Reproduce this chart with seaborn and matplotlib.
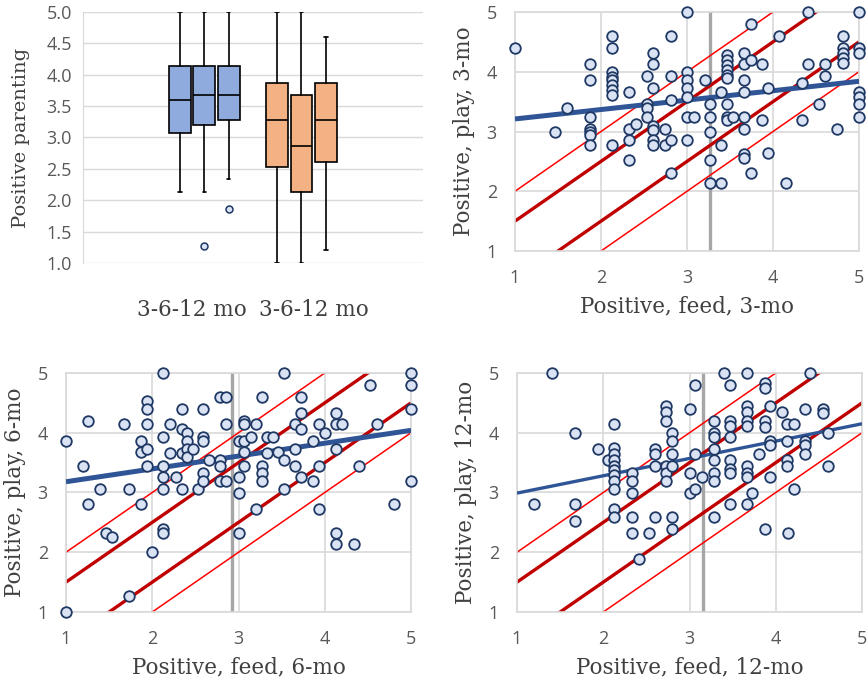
import matplotlib
matplotlib.use("Agg")
import matplotlib.pyplot as plt
import numpy as np
import pandas as pd
import seaborn as sns

# ---- box plot summary ----
box_labels = ["3-6-12 mo", "3-6-12 mo"]
box_lo = [2.13, 2.13, 2.34, 1.0, 1.0, 1.21]
box_q1 = [3.07, 3.20, 3.28, 2.53, 2.13, 2.61]
box_med = [3.60, 3.68, 3.68, 3.28, 2.87, 3.28]
box_q3 = [4.14, 4.14, 4.14, 3.87, 3.68, 3.87]
box_hi = [5.0, 5.0, 5.0, 5.0, 5.0, 4.60]
box_out = [[], [1.27], [1.86], [], [], []]
box_colors = ["#8FAADC"] * 3 + ["#F4B183"] * 3

# ---- scatter data, 3 months ----
feed3 = [1.0, 1.47, 1.60,
         1.87, 1.87, 1.87, 1.87, 1.87, 1.87, 1.87,
         2.13, 2.13, 2.13, 2.13, 2.13, 2.13, 2.13, 2.13, 2.13,
         2.33, 2.33, 2.33, 2.33, 2.41,
         2.54, 2.54, 2.54, 2.54,
         2.61, 2.61, 2.61, 2.61, 2.61, 2.61, 2.61,
         2.74, 2.74, 2.81, 2.81, 2.81, 2.81, 2.81,
         3.0, 3.0, 3.0, 3.0, 3.0, 3.0, 3.0, 3.08, 3.21,
         3.27, 3.27, 3.27, 3.27, 3.27, 3.40, 3.40, 3.40,
         3.47, 3.47, 3.47, 3.47, 3.47, 3.47, 3.47, 3.47, 3.47, 3.54,
         3.66, 3.66, 3.66, 3.66, 3.66, 3.66, 3.66, 3.66,
         3.74, 3.74, 3.74, 3.87, 3.87, 3.94, 3.94, 4.07, 4.15,
         4.34, 4.34, 4.41, 4.41, 4.54, 4.61, 4.61, 4.74,
         4.81, 4.81, 4.81, 4.81, 4.81,
         5.0, 5.0, 5.0, 5.0, 5.0, 5.0, 5.0]
play3 = [4.40, 3.0, 3.39,
         4.13, 3.86, 3.25, 3.05, 3.0, 2.94, 2.78,
         4.60, 4.40, 3.99, 3.91, 3.86, 3.78, 3.70, 3.61, 2.78,
         3.66, 3.05, 2.86, 2.52, 3.12,
         3.93, 3.46, 3.39, 3.25,
         4.32, 4.13, 3.72, 3.09, 3.03, 2.86, 2.78,
         3.05, 2.78, 4.60, 3.93, 3.53, 2.86, 2.31,
         5.0, 3.99, 3.86, 3.72, 3.58, 3.25, 2.86, 3.25, 3.86,
         3.46, 3.25, 3.0, 2.52, 2.13, 3.66, 2.78, 2.13,
         4.28, 4.20, 4.12, 4.03, 3.95, 3.89, 3.46, 3.25, 3.19, 3.25,
         4.32, 4.13, 3.86, 3.66, 3.25, 3.05, 2.63, 2.55,
         4.80, 4.20, 2.31, 4.13, 3.19, 3.72, 2.64, 4.60, 2.13,
         3.81, 3.19, 5.0, 4.13, 3.46, 4.13, 3.93, 3.05,
         4.60, 4.40, 4.31, 4.23, 4.14,
         5.0, 4.40, 4.32, 3.66, 3.58, 3.46, 3.25]

# ---- scatter data, 6 months ----
feed6 = [1.0, 1.0, 1.20, 1.26, 1.26, 1.40, 1.46, 1.53, 1.67, 1.73, 1.73,
         1.87, 1.87, 1.87, 1.94, 1.94, 1.94, 1.94, 1.94, 2.0,
         2.13, 2.13, 2.13, 2.13, 2.13, 2.13, 2.13, 2.21, 2.21, 2.27,
         2.34, 2.34, 2.34, 2.34, 2.40, 2.40, 2.40, 2.40, 2.47, 2.53,
         2.59, 2.59, 2.59, 2.59, 2.59, 2.66,
         2.79, 2.79, 2.79, 2.79, 2.86, 2.86, 2.86,
         3.0, 3.0, 3.0, 3.0, 3.06, 3.06, 3.06, 3.06, 3.06, 3.14,
         3.20, 3.20, 3.27, 3.27, 3.27, 3.27, 3.33, 3.33, 3.40, 3.46,
         3.53, 3.53, 3.53, 3.66, 3.66, 3.66,
         3.73, 3.73, 3.73, 3.73, 3.86, 3.86, 3.93, 3.93, 3.93, 4.0,
         4.13, 4.13, 4.13, 4.13, 4.13, 4.20, 4.34, 4.40, 4.53, 4.60, 4.80,
         5.0, 5.0, 5.0, 5.0]
play6 = [3.86, 1.0, 3.45, 4.20, 2.80, 3.06, 2.33, 2.26, 4.14, 3.06, 1.27,
         3.87, 3.68, 2.80, 4.53, 4.39, 4.14, 3.73, 3.45, 2.0,
         5.0, 3.93, 3.45, 3.26, 3.06, 2.39, 2.32, 4.14, 3.66, 3.26,
         4.39, 4.07, 3.66, 3.06, 4.0, 3.87, 3.73, 3.59, 3.73, 3.06,
         4.39, 3.93, 3.87, 3.32, 3.20, 3.54,
         4.60, 3.54, 3.45, 3.20, 4.60, 4.14, 3.20,
         3.87, 3.26, 2.99, 2.32, 4.20, 4.14, 3.87, 3.68, 3.45, 3.93,
         4.14, 2.73, 4.60, 3.45, 3.32, 3.20, 3.93, 3.66, 3.93, 3.68,
         5.0, 3.54, 3.06, 4.14, 3.73, 3.45,
         4.60, 4.33, 4.07, 3.26, 3.87, 3.20, 4.14, 3.45, 2.73, 4.0,
         4.33, 4.14, 3.73, 2.32, 2.14, 4.14, 2.14, 3.45, 4.80, 4.14, 2.80,
         5.0, 4.80, 4.39, 3.19]

# ---- scatter data, 12 months ----
feed12 = [1.20, 1.41, 1.67, 1.67, 1.67, 1.94, 2.06,
          2.13, 2.13, 2.13, 2.13, 2.13, 2.13, 2.13, 2.13, 2.13, 2.13, 2.13,
          2.33, 2.33, 2.33, 2.33, 2.33, 2.41, 2.53,
          2.60, 2.60, 2.60, 2.60,
          2.73, 2.73, 2.73, 2.73, 2.73, 2.73,
          2.80, 2.80, 2.80, 2.80, 2.80, 2.80,
          3.01, 3.01, 3.01, 3.06, 3.06, 3.06, 3.14,
          3.28, 3.28, 3.28, 3.28, 3.28, 3.28, 3.28, 3.28,
          3.40, 3.47, 3.47, 3.47, 3.47, 3.47, 3.47, 3.47, 3.47,
          3.67, 3.67, 3.67, 3.67, 3.67, 3.67, 3.67, 3.67, 3.67,
          3.73, 3.81, 3.87, 3.87, 3.87, 3.87, 3.87,
          3.93, 3.93, 3.93, 3.93, 4.07,
          4.13, 4.13, 4.13, 4.13, 4.14, 4.21, 4.21,
          4.34, 4.34, 4.34, 4.34, 4.40, 4.55, 4.55, 4.61, 4.61]
play12 = [2.80, 5.0, 4.0, 2.80, 2.52, 3.73, 3.54,
          4.14, 3.75, 3.65, 3.54, 3.45, 3.37, 3.29, 3.20, 3.06, 2.73, 2.59,
          3.32, 3.20, 2.99, 2.59, 2.32, 1.88, 2.32,
          3.73, 3.65, 3.45, 2.59,
          4.44, 4.35, 4.20, 3.45, 3.32, 3.20,
          4.0, 3.87, 3.65, 3.45, 2.59, 2.39,
          4.39, 3.32, 2.99, 4.80, 3.65, 3.06, 3.26,
          4.20, 4.0, 3.93, 3.73, 3.54, 3.32, 3.20, 2.59,
          5.0, 4.80, 4.20, 4.12, 3.93, 3.54, 3.40, 3.33, 2.80,
          5.0, 4.44, 4.35, 4.20, 4.12, 3.45, 3.32, 3.26, 2.80,
          2.99, 3.65, 4.83, 4.75, 4.20, 4.09, 2.39,
          4.44, 3.87, 3.79, 3.26, 4.35,
          4.14, 3.87, 3.54, 3.45, 2.32, 4.14, 3.06,
          4.39, 3.87, 3.79, 3.65, 5.0, 4.39, 4.33, 4.0, 3.45]

# fitted line (value at x=1 and at x=5) and mean of feed
fit_start = [3.21, 3.18, 2.99]
fit_end = [3.84, 4.04, 4.15]
fit_width = [3.6, 3.6, 2.4]
feed_mean = [3.27, 2.93, 3.16]
band_offsets = [0.5, 1.0]

xlabels = ["Positive, feed, 3-mo", "Positive, feed, 6-mo", "Positive, feed, 12-mo"]
ylabels = ["Positive, play, 3-mo", "Positive, play, 6-mo", "Positive, play, 12-mo"]

sns.set_style("white")
plt.rcParams["font.family"] = ["Open Sans", "DejaVu Sans"]

label_font = dict(family="DejaVu Serif", size=15.5, color="#404040")
tick_color = "#595959"
grid_color = "#D9D9D9"
tick_size = 13

fig = plt.figure(figsize=(8.67, 6.81), dpi=100)

# ---- box plot panel ----
ax0 = fig.add_axes([0.0957, 0.6138, 0.392, 0.3686])
positions = [4, 5, 6, 8, 9, 10]
stats = []
for i in range(6):
    stats.append(dict(whislo=box_lo[i], q1=box_q1[i], med=box_med[i],
                      q3=box_q3[i], whishi=box_hi[i], fliers=box_out[i]))
bp = ax0.bxp(stats, positions=positions, widths=0.9, patch_artist=True,
             capwidths=0.15,
             boxprops=dict(edgecolor="black", linewidth=1.2),
             medianprops=dict(color="black", linewidth=1.2),
             whiskerprops=dict(color="black", linewidth=1.2),
             capprops=dict(color="black", linewidth=1.2),
             flierprops=dict(marker="o", markersize=5, markerfacecolor="#DAE3F3",
                             markeredgecolor="#1F3864", markeredgewidth=1.1))
for patch, c in zip(bp["boxes"], box_colors):
    patch.set_facecolor(c)
ax0.set_xlim(0, 14)
ax0.set_ylim(1.0, 5.0)
ax0.set_yticks(np.arange(1.0, 5.01, 0.5))
ax0.set_yticklabels([f"{v:.1f}" for v in np.arange(1.0, 5.01, 0.5)])
ax0.yaxis.grid(True, color=grid_color, linewidth=1.0)
ax0.set_axisbelow(True)
ax0.set_xticks([4.5, 9.5])
ax0.set_xticklabels(box_labels, fontdict=label_font)
ax0.tick_params(axis="x", length=0, pad=26)
ax0.tick_params(axis="y", length=0, labelsize=tick_size, labelcolor=tick_color, pad=8)
ax0.set_ylabel("Positive parenting", fontdict=dict(label_font, size=14), labelpad=12)
for s in ["top", "right", "bottom"]:
    ax0.spines[s].set_visible(False)
ax0.spines["left"].set_color(grid_color)

# ---- scatter panels ----
rects = [[0.594, 0.6314, 0.3968, 0.351],
         [0.0761, 0.1013, 0.398, 0.351],
         [0.5963, 0.1013, 0.398, 0.351]]
feeds = [feed3, feed6, feed12]
plays = [play3, play6, play12]

for k in range(3):
    ax = fig.add_axes(rects[k])
    df = pd.DataFrame({"feed": feeds[k], "play": plays[k]})
    xs = np.array([1.0, 5.0])
    ax.axvline(feed_mean[k], color="#A6A6A6", linewidth=2.4, zorder=1)
    for off in band_offsets:
        lw = 2.4 if off == 0.5 else 1.1
        col = "#C00000" if off == 0.5 else "#FF0000"
        ax.plot(xs, xs + off, color=col, linewidth=lw, zorder=2)
        ax.plot(xs, xs - off, color=col, linewidth=lw, zorder=2)
    ax.plot(xs, [fit_start[k], fit_end[k]], color="#2F5597",
            linewidth=fit_width[k], zorder=3, solid_capstyle="butt")
    sns.scatterplot(data=df, x="feed", y="play", ax=ax, s=58,
                    color="#DAE3F3", edgecolor="#1F3864", linewidth=1.3,
                    zorder=4, clip_on=False)
    ax.set_xlim(1, 5)
    ax.set_ylim(1, 5)
    ax.set_xticks([1, 2, 3, 4, 5])
    ax.set_yticks([1, 2, 3, 4, 5])
    ax.grid(True, color=grid_color, linewidth=1.2)
    ax.set_axisbelow(True)
    for s in ax.spines.values():
        s.set_color(grid_color)
        s.set_linewidth(1.2)
    ax.tick_params(length=0, labelsize=tick_size, labelcolor=tick_color)
    ax.tick_params(axis="x", pad=13)
    ax.tick_params(axis="y", pad=13)
    ax.set_xlabel(xlabels[k], fontdict=label_font, labelpad=6)
    ax.set_ylabel(ylabels[k], fontdict=label_font, labelpad=8)

fig.savefig("out.png", dpi=100)
